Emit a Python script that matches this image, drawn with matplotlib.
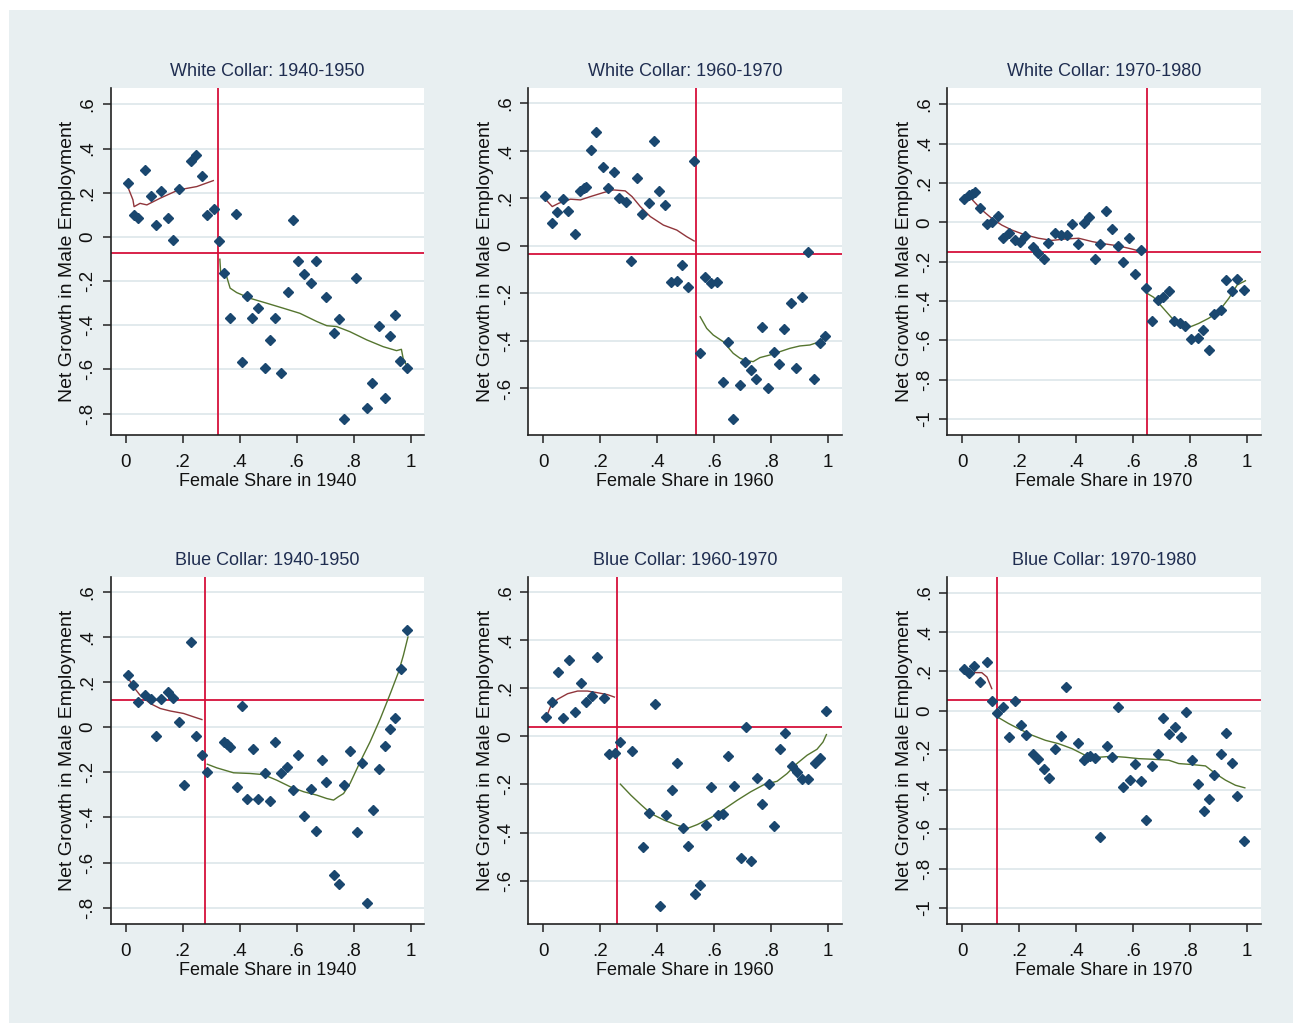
import matplotlib
matplotlib.use("Agg")
import matplotlib.pyplot as plt
from matplotlib.patches import Rectangle
from matplotlib.ticker import FuncFormatter

plt.rcParams['font.family'] = ['Liberation Sans', 'DejaVu Sans']

# ---- data ----
titles = ['White Collar: 1940-1950', 'White Collar: 1960-1970', 'White Collar: 1970-1980',
          'Blue Collar: 1940-1950', 'Blue Collar: 1960-1970', 'Blue Collar: 1970-1980']
xlabels = ['Female Share in 1940', 'Female Share in 1960', 'Female Share in 1970',
           'Female Share in 1940', 'Female Share in 1960', 'Female Share in 1970']

# White collar 1940-1950
wc40_x = [0.007, 0.03, 0.045, 0.069, 0.088, 0.106, 0.126, 0.148, 0.168, 0.187, 0.228, 0.248, 0.268,
          0.285, 0.310, 0.328, 0.347, 0.367, 0.389, 0.408, 0.426, 0.445, 0.465, 0.489, 0.507, 0.526,
          0.546, 0.569, 0.588, 0.605, 0.626, 0.650, 0.668, 0.704, 0.730, 0.749, 0.766, 0.810, 0.848,
          0.866, 0.890, 0.909, 0.928, 0.946, 0.964, 0.988]
wc40_y = [0.243, 0.097, 0.085, 0.303, 0.187, 0.056, 0.208, 0.085, -0.012, 0.216, 0.344, 0.371, 0.276,
          0.098, 0.125, -0.018, -0.162, -0.367, 0.104, -0.566, -0.267, -0.367, -0.320, -0.593, -0.469,
          -0.367, -0.614, -0.251, 0.077, -0.107, -0.169, -0.210, -0.107, -0.272, -0.436, -0.373, -0.826,
          -0.184, -0.773, -0.661, -0.402, -0.731, -0.450, -0.355, -0.560, -0.593]
wc40_lo_x = [0.007, 0.026, 0.030, 0.051, 0.075, 0.121, 0.186, 0.250, 0.308]
wc40_lo_y = [0.230, 0.168, 0.137, 0.152, 0.145, 0.175, 0.213, 0.228, 0.255]
wc40_hi_x = [0.331, 0.334, 0.355, 0.367, 0.390, 0.437, 0.495, 0.554, 0.612, 0.671, 0.706, 0.741,
             0.787, 0.846, 0.904, 0.951, 0.968, 0.974, 0.988]
wc40_hi_y = [-0.101, -0.165, -0.180, -0.232, -0.252, -0.278, -0.300, -0.323, -0.346, -0.383, -0.402,
             -0.406, -0.429, -0.466, -0.497, -0.515, -0.509, -0.549, -0.587]
wc40_cut = (0.326, -0.075)

# White collar 1960-1970
wc60_x = [0.008, 0.030, 0.050, 0.069, 0.088, 0.111, 0.131, 0.142, 0.152, 0.168, 0.187, 0.210, 0.229,
          0.249, 0.267, 0.291, 0.310, 0.329, 0.348, 0.371, 0.389, 0.408, 0.428, 0.449, 0.469, 0.488,
          0.508, 0.531, 0.550, 0.569, 0.588, 0.610, 0.630, 0.648, 0.667, 0.691, 0.709, 0.728, 0.748,
          0.767, 0.790, 0.809, 0.827, 0.846, 0.869, 0.889, 0.908, 0.928, 0.951, 0.970, 0.990]
wc60_y = [0.212, 0.098, 0.142, 0.199, 0.149, 0.052, 0.230, 0.243, 0.250, 0.403, 0.479, 0.333, 0.244,
          0.313, 0.204, 0.187, -0.062, 0.288, 0.135, 0.180, 0.441, 0.232, 0.174, -0.152, -0.146, -0.081,
          -0.171, 0.358, -0.451, -0.132, -0.154, -0.150, -0.572, -0.406, -0.730, -0.584, -0.487, -0.522,
          -0.559, -0.343, -0.598, -0.445, -0.497, -0.348, -0.242, -0.515, -0.215, -0.024, -0.559, -0.410,
          -0.381]
wc60_lo_x = [0.008, 0.032, 0.055, 0.096, 0.131, 0.166, 0.212, 0.247, 0.288, 0.312, 0.341, 0.376,
             0.422, 0.469, 0.504, 0.530]
wc60_lo_y = [0.197, 0.166, 0.180, 0.197, 0.194, 0.208, 0.225, 0.236, 0.232, 0.208, 0.166, 0.124,
             0.088, 0.067, 0.039, 0.021]
wc60_hi_x = [0.551, 0.574, 0.597, 0.632, 0.667, 0.691, 0.714, 0.737, 0.761, 0.796, 0.831, 0.866,
             0.901, 0.936, 0.971, 0.994]
wc60_hi_y = [-0.298, -0.347, -0.375, -0.403, -0.452, -0.473, -0.483, -0.487, -0.470, -0.459, -0.445,
             -0.431, -0.421, -0.417, -0.403, -0.382]
wc60_cut = (0.538, -0.032)

# White collar 1970-1980
wc70_x = [0.006, 0.025, 0.036, 0.046, 0.064, 0.087, 0.104, 0.125, 0.143, 0.166, 0.185, 0.204, 0.222,
          0.247, 0.266, 0.286, 0.303, 0.327, 0.347, 0.368, 0.384, 0.407, 0.429, 0.446, 0.465, 0.484,
          0.506, 0.526, 0.546, 0.563, 0.587, 0.607, 0.628, 0.645, 0.667, 0.689, 0.706, 0.725, 0.745,
          0.765, 0.783, 0.804, 0.827, 0.845, 0.865, 0.885, 0.907, 0.926, 0.947, 0.965, 0.988]
wc70_y = [0.120, 0.139, 0.144, 0.153, 0.075, -0.010, 0.002, 0.031, -0.081, -0.056, -0.092, -0.098,
          -0.068, -0.125, -0.154, -0.188, -0.103, -0.056, -0.063, -0.063, -0.010, -0.112, -0.003, 0.025,
          -0.188, -0.112, 0.058, -0.034, -0.119, -0.203, -0.081, -0.264, -0.142, -0.336, -0.503, -0.395,
          -0.378, -0.347, -0.500, -0.514, -0.525, -0.595, -0.588, -0.547, -0.649, -0.466, -0.444, -0.295,
          -0.347, -0.286, -0.342]
wc70_lo_x = [0.006, 0.034, 0.069, 0.104, 0.139, 0.174, 0.221, 0.268, 0.315, 0.362, 0.409, 0.456,
             0.502, 0.549, 0.596, 0.629]
wc70_lo_y = [0.134, 0.117, 0.063, 0.020, -0.014, -0.039, -0.064, -0.081, -0.092, -0.085, -0.081,
             -0.098, -0.110, -0.120, -0.136, -0.149]
wc70_hi_x = [0.649, 0.672, 0.701, 0.737, 0.772, 0.801, 0.830, 0.865, 0.900, 0.936, 0.965, 0.994]
wc70_hi_y = [-0.361, -0.381, -0.429, -0.488, -0.514, -0.531, -0.514, -0.488, -0.454, -0.386, -0.319,
             -0.297]
wc70_cut = (0.649, -0.153)

# Blue collar 1940-1950
bc40_x = [0.007, 0.026, 0.044, 0.069, 0.088, 0.106, 0.126, 0.149, 0.168, 0.187, 0.206, 0.229, 0.248,
          0.268, 0.287, 0.347, 0.356, 0.367, 0.391, 0.407, 0.427, 0.446, 0.465, 0.490, 0.508, 0.526,
          0.545, 0.568, 0.588, 0.606, 0.627, 0.650, 0.669, 0.688, 0.705, 0.730, 0.750, 0.767, 0.786,
          0.811, 0.829, 0.849, 0.867, 0.891, 0.910, 0.929, 0.947, 0.965, 0.989]
bc40_y = [0.230, 0.185, 0.111, 0.142, 0.127, -0.038, 0.124, 0.156, 0.130, 0.024, -0.258, 0.376,
          -0.038, -0.124, -0.199, -0.065, -0.075, -0.086, -0.264, 0.096, -0.319, -0.097, -0.319, -0.204,
          -0.326, -0.065, -0.204, -0.176, -0.280, -0.124, -0.393, -0.272, -0.459, -0.145, -0.245, -0.654,
          -0.695, -0.255, -0.105, -0.466, -0.158, -0.781, -0.368, -0.185, -0.084, -0.009, 0.043, 0.258,
          0.431]
bc40_lo_x = [0.007, 0.028, 0.051, 0.087, 0.122, 0.157, 0.204, 0.239, 0.268]
bc40_lo_y = [0.223, 0.179, 0.142, 0.105, 0.083, 0.072, 0.061, 0.046, 0.034]
bc40_hi_x = [0.287, 0.320, 0.379, 0.437, 0.484, 0.531, 0.578, 0.625, 0.671, 0.706, 0.730, 0.747,
             0.765, 0.788, 0.823, 0.858, 0.894, 0.929, 0.958, 0.975, 0.991]
bc40_hi_y = [-0.164, -0.180, -0.202, -0.205, -0.210, -0.235, -0.264, -0.286, -0.301, -0.316, -0.323,
             -0.308, -0.294, -0.249, -0.154, -0.065, 0.038, 0.149, 0.245, 0.319, 0.400]
bc40_cut = (0.278, 0.121)

# Blue collar 1960-1970
bc60_x = [0.009, 0.032, 0.053, 0.071, 0.090, 0.113, 0.132, 0.152, 0.170, 0.189, 0.212, 0.231, 0.251,
          0.270, 0.313, 0.350, 0.373, 0.391, 0.410, 0.431, 0.452, 0.471, 0.490, 0.510, 0.533, 0.552,
          0.572, 0.590, 0.613, 0.632, 0.650, 0.670, 0.693, 0.712, 0.730, 0.750, 0.769, 0.792, 0.811,
          0.830, 0.848, 0.872, 0.891, 0.910, 0.930, 0.953, 0.972, 0.992]
bc60_y = [0.082, 0.141, 0.266, 0.078, 0.316, 0.102, 0.221, 0.141, 0.166, 0.328, 0.161, -0.075, -0.068,
          -0.024, -0.061, -0.461, -0.317, 0.134, -0.706, -0.329, -0.224, -0.112, -0.382, -0.455, -0.656,
          -0.619, -0.368, -0.210, -0.328, -0.324, -0.084, -0.205, -0.505, 0.039, -0.518, -0.173, -0.280,
          -0.198, -0.374, -0.054, 0.015, -0.123, -0.148, -0.179, -0.179, -0.113, -0.090, 0.104]
bc60_lo_x = [0.009, 0.028, 0.051, 0.086, 0.121, 0.156, 0.191, 0.226, 0.250]
bc60_lo_y = [0.073, 0.129, 0.154, 0.177, 0.188, 0.188, 0.181, 0.173, 0.163]
bc60_hi_x = [0.271, 0.308, 0.343, 0.378, 0.425, 0.471, 0.506, 0.541, 0.588, 0.635, 0.681, 0.728,
             0.775, 0.821, 0.856, 0.891, 0.926, 0.961, 0.982, 0.994]
bc60_hi_y = [-0.199, -0.245, -0.284, -0.321, -0.349, -0.370, -0.383, -0.367, -0.339, -0.303, -0.266,
             -0.231, -0.201, -0.187, -0.155, -0.113, -0.079, -0.054, -0.024, 0.007]
bc60_cut = (0.258, 0.037)

# Blue collar 1970-1980
bc70_x = [0.006, 0.025, 0.043, 0.063, 0.087, 0.104, 0.123, 0.143, 0.166, 0.185, 0.205, 0.224, 0.247,
          0.266, 0.286, 0.304, 0.327, 0.347, 0.365, 0.407, 0.427, 0.437, 0.447, 0.465, 0.485, 0.507,
          0.527, 0.546, 0.564, 0.588, 0.607, 0.626, 0.645, 0.667, 0.687, 0.706, 0.726, 0.748, 0.767,
          0.787, 0.806, 0.828, 0.848, 0.867, 0.885, 0.910, 0.927, 0.947, 0.966, 0.989]
bc70_y = [0.211, 0.191, 0.228, 0.149, 0.248, 0.051, -0.010, 0.019, -0.133, 0.051, -0.073, -0.120,
          -0.218, -0.242, -0.294, -0.340, -0.194, -0.125, 0.120, -0.164, -0.247, -0.235, -0.230, -0.238,
          -0.640, -0.179, -0.235, 0.020, -0.387, -0.348, -0.270, -0.355, -0.554, -0.279, -0.218, -0.034,
          -0.118, -0.084, -0.133, -0.008, -0.247, -0.370, -0.507, -0.448, -0.324, -0.216, -0.110, -0.264,
          -0.432, -0.662]
bc70_lo_x = [0.006, 0.022, 0.040, 0.069, 0.087, 0.104]
bc70_lo_y = [0.206, 0.201, 0.194, 0.194, 0.172, 0.113]
bc70_hi_x = [0.123, 0.163, 0.198, 0.245, 0.292, 0.338, 0.385, 0.432, 0.479, 0.526, 0.573, 0.619,
             0.666, 0.725, 0.760, 0.807, 0.854, 0.889, 0.924, 0.959, 0.992]
bc70_hi_y = [-0.030, -0.064, -0.090, -0.123, -0.149, -0.166, -0.191, -0.225, -0.235, -0.230, -0.235,
             -0.242, -0.245, -0.250, -0.267, -0.272, -0.279, -0.318, -0.351, -0.377, -0.390]
bc70_cut = (0.123, 0.056)

panels = [
    (wc40_x, wc40_y, wc40_lo_x, wc40_lo_y, wc40_hi_x, wc40_hi_y, wc40_cut),
    (wc60_x, wc60_y, wc60_lo_x, wc60_lo_y, wc60_hi_x, wc60_hi_y, wc60_cut),
    (wc70_x, wc70_y, wc70_lo_x, wc70_lo_y, wc70_hi_x, wc70_hi_y, wc70_cut),
    (bc40_x, bc40_y, bc40_lo_x, bc40_lo_y, bc40_hi_x, bc40_hi_y, bc40_cut),
    (bc60_x, bc60_y, bc60_lo_x, bc60_lo_y, bc60_hi_x, bc60_hi_y, bc60_cut),
    (bc70_x, bc70_y, bc70_lo_x, bc70_lo_y, bc70_hi_x, bc70_hi_y, bc70_cut),
]

# y ranges / ticks per panel (Stata picks these per graph)
ylims = [(-0.897, 0.673), (-0.796, 0.664), (-1.081, 0.681),
         (-0.871, 0.666), (-0.779, 0.662), (-1.079, 0.679)]
yticks = [[-0.8, -0.6, -0.4, -0.2, 0, 0.2, 0.4, 0.6],
          [-0.6, -0.4, -0.2, 0, 0.2, 0.4, 0.6],
          [-1, -0.8, -0.6, -0.4, -0.2, 0, 0.2, 0.4, 0.6],
          [-0.8, -0.6, -0.4, -0.2, 0, 0.2, 0.4, 0.6],
          [-0.6, -0.4, -0.2, 0, 0.2, 0.4, 0.6],
          [-1, -0.8, -0.6, -0.4, -0.2, 0, 0.2, 0.4, 0.6]]
xticks = [0, 0.2, 0.4, 0.6, 0.8, 1]

# colours (Stata s2color look)
bg = '#e8eff1'
grid_col = '#e2eaed'
navy = '#1a476f'
maroon = '#90353b'
green = '#55752f'
red = '#d6103a'


def stata_fmt(v, pos=None):
    s = f"{v:g}"
    if s.startswith('0.'):
        s = s[1:]
    elif s.startswith('-0.'):
        s = '-' + s[2:]
    return s


W, H = 1293, 1023
fig = plt.figure(figsize=(W / 100, H / 100), dpi=100, facecolor='white')
fig.patches.append(Rectangle((9 / W, 0), 1 - 9 / W, 1 - 10 / H, transform=fig.transFigure,
                             facecolor=bg, edgecolor='none', zorder=-10))

lefts = [110.7, 528.3, 947.3]
bottoms = [435.0, 923.7]
aw, ah = 313.5, 346.7

for i, (px, py, lx, ly, hx, hy, cut) in enumerate(panels):
    r, c = divmod(i, 3)
    ax = fig.add_axes([lefts[c] / W, 1 - bottoms[r] / H, aw / W, ah / H])
    ax.set_facecolor('white')

    ax.set_xlim(-0.052, 1.048)
    ax.set_ylim(*ylims[i])
    ax.set_xticks(xticks)
    ax.set_yticks(yticks[i])
    ax.xaxis.set_major_formatter(FuncFormatter(stata_fmt))
    ax.yaxis.set_major_formatter(FuncFormatter(stata_fmt))
    ax.tick_params(axis='both', direction='out', length=6, width=1.1, color='#222222',
                   labelcolor='#111111', labelsize=13.5)
    ax.tick_params(axis='x', pad=8)
    ax.tick_params(axis='y', pad=4.3)
    for t in ax.get_yticklabels():
        t.set_rotation(90)
        t.set_va('center')

    ax.grid(axis='y', color=grid_col, lw=1.4, zorder=0)
    ax.set_axisbelow(True)
    for s in ['top', 'right']:
        ax.spines[s].set_visible(False)
    for s in ['left', 'bottom']:
        ax.spines[s].set_color('#222222')
        ax.spines[s].set_linewidth(1.2)

    ax.axvline(cut[0], color=red, lw=1.3, zorder=2)
    ax.axhline(cut[1], color=red, lw=1.3, zorder=2)
    ax.plot(lx, ly, color=maroon, lw=1.0, zorder=3)
    ax.plot(hx, hy, color=green, lw=1.0, zorder=3)
    ax.plot(px, py, linestyle='none', marker='D', ms=5.0, color=navy, mec=navy, zorder=4)

    ax.set_title(titles[i], fontsize=13, color='#1f2d50', pad=9)
    ax.set_xlabel(xlabels[i], fontsize=13, color='#111111', labelpad=1)
    ax.set_ylabel('Net Growth in Male Employment', fontsize=14, color='#111111', labelpad=2.5)

fig.savefig('out.png', dpi=100, facecolor='white')
